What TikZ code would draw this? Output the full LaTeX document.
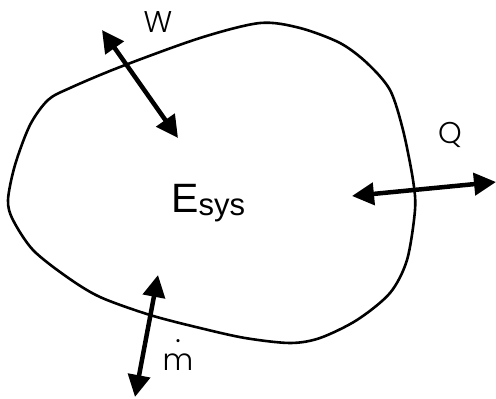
\documentclass[tikz,border=0pt]{standalone}
\usepackage{fontspec}
\setmainfont{Liberation Sans}
\newfontfamily\thinfont{Poppins Light}
\usetikzlibrary{arrows.meta}

\begin{document}
\begin{tikzpicture}[x=1pt, y=-1pt,
    boundary/.style={line width=2.6pt, black},
    flow/.style={line width=4.5pt, black, {Triangle[length=22pt,width=22pt]}-{Triangle[length=22pt,width=22pt]}},
    flowlabel/.style={font=\thinfont\fontsize{30}{30}\selectfont, inner sep=0pt}
]
\useasboundingbox (0,0) rectangle (496,399);

% Systemgrenze
\draw[boundary] plot[smooth cycle] coordinates {
    (260,23) (300,28) (340,43) (367,63) (390,90) (403,130) (413,180)
    (415,210) (407,260) (390,293) (357,320) (320,338) (290,343)
    (245,338) (200,328) (150,315) (100,297) (67,277) (33,250)
    (13,220) (8,200) (15,165) (30,125) (48,100) (70,88) (120,67) (200,38)};

% Energie des Systems
\node[anchor=base west, inner sep=0pt, font=\fontsize{41}{41}\selectfont] (esys) at (171,212)
    {E\raisebox{-3pt}{\fontsize{31}{31}\selectfont sys}};

% Endpunkte der Pfeile
\coordinate (w1) at (102,30);
\coordinate (w2) at (178,138);
\coordinate (q1) at (352,196);
\coordinate (q2) at (496,182);
\coordinate (m1) at (158,275);
\coordinate (m2) at (135,397);

% Pfeile
\draw[flow] (w1) -- (w2);
\draw[flow] (q1) -- (q2);
\draw[flow] (m1) -- (m2);

% Beschriftungen
\node[flowlabel] (wlab) at (158,22) {W};
\node[flowlabel] (qlab) at (450,135) {Q};
\node[flowlabel, anchor=base] (mlab) at (178,370)
    {\ooalign{m\cr\hidewidth\raisebox{28pt}{.}\hidewidth\cr}};

\end{tikzpicture}
\end{document}
